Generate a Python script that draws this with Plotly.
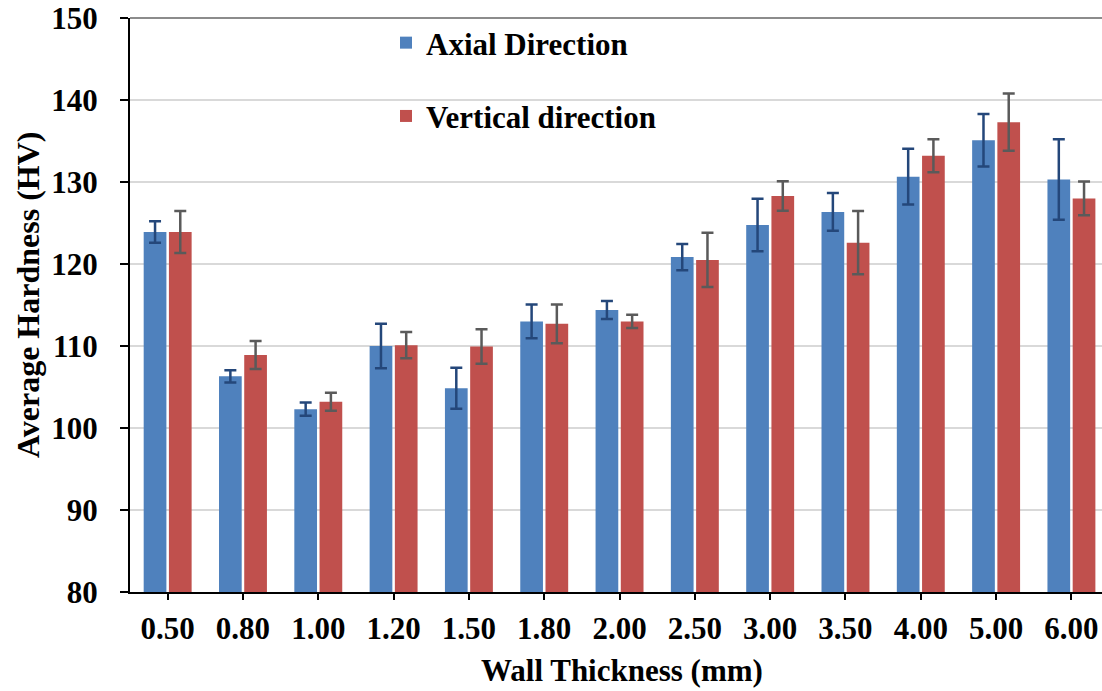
import plotly.graph_objects as go

categories = ['0.50', '0.80', '1.00', '1.20', '1.50', '1.80', '2.00',
              '2.50', '3.00', '3.50', '4.00', '5.00', '6.00']
axial = [123.9, 106.3, 102.3, 110.0, 104.85, 113.0, 114.4,
         120.85, 124.75, 126.35, 130.65, 135.1, 130.3]
axial_err = [1.3, 0.75, 0.8, 2.7, 2.5, 2.05, 1.1, 1.6, 3.2, 2.3, 3.4, 3.2, 4.9]
vertical = [123.9, 108.9, 103.2, 110.1, 109.95, 112.7, 113.0,
            120.5, 128.3, 122.6, 133.2, 137.3, 128.0]
vertical_err = [2.55, 1.7, 1.1, 1.6, 2.1, 2.35, 0.8, 3.3, 1.8, 3.85, 2.0, 3.5, 2.05]
y_ticks = [80, 90, 100, 110, 120, 130, 140, 150]

FONT = "Liberation Serif, Times New Roman, serif"

fig = go.Figure()
fig.add_trace(go.Bar(
    x=categories, y=axial, name="Axial Direction", legendgroup="a",
    marker=dict(color="#4f81bd", line=dict(width=0)),
    error_y=dict(type="data", array=axial_err, visible=True,
                 color="#24477a", thickness=2.5, width=6),
))
fig.add_trace(go.Bar(
    x=categories, y=vertical, name="Vertical direction", legendgroup="b",
    marker=dict(color="#c0504d", line=dict(width=0)),
    error_y=dict(type="data", array=vertical_err, visible=True,
                 color="#5a5a5a", thickness=2.5, width=6),
))

fig.update_layout(
    width=1102, height=691,
    margin=dict(l=130, r=0, t=18, b=99),
    paper_bgcolor="white", plot_bgcolor="white",
    font=dict(family=FONT, size=30, color="black", weight="bold"),
    barmode="group", bargap=0.33, bargroupgap=0.1,
    showlegend=True,
    legend=dict(
        x=(386 - 130) / 972, xanchor="left",
        y=(592 - 16) / 574, yanchor="top",
        bgcolor="rgba(0,0,0,0)", borderwidth=0,
        font=dict(family=FONT, size=31, color="black", weight="bold"),
        tracegroupgap=30,
    ),
    xaxis=dict(
        type="category", range=[-0.5, 12.406],
        showline=True, linecolor="black", linewidth=2,
        ticks="outside", ticklen=6, tickwidth=2, tickcolor="black",
        showgrid=False, ticklabelstandoff=2,
        tickfont=dict(family=FONT, size=31, color="black", weight="bold"),
    ),
    yaxis=dict(
        range=[80, 150], tickvals=y_ticks,
        showline=True, linecolor="black", linewidth=2,
        ticks="outside", ticklen=8, tickwidth=2, tickcolor="black",
        showgrid=True, gridcolor="#d9d9d9", gridwidth=2,
        zeroline=False, ticklabelstandoff=16,
        tickfont=dict(family=FONT, size=31, color="black", weight="bold"),
    ),
    shapes=[dict(type="line", xref="paper", yref="paper", x0=0, x1=1, y0=1, y1=1,
                 line=dict(color="#8c8c8c", width=2))],
    annotations=[
        dict(text="Average Hardness (HV)", textangle=-90, showarrow=False,
             xref="paper", yref="paper", x=(28 - 130) / 972, y=(592 - 295) / 574,
             xanchor="center", yanchor="middle",
             font=dict(family=FONT, size=32, color="black", weight="bold")),
        dict(text="Wall Thickness (mm)", showarrow=False,
             xref="paper", yref="paper", x=(622 - 130) / 972, y=(592 - 670) / 574,
             xanchor="center", yanchor="middle",
             font=dict(family=FONT, size=31, color="black", weight="bold")),
    ],
)

fig.write_html("out.html")
